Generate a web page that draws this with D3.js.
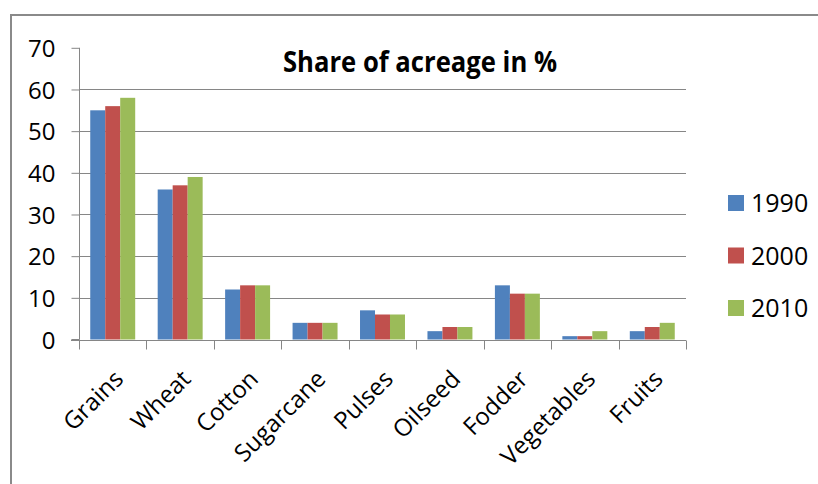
<!DOCTYPE html>
<html>
<head>
<meta charset="utf-8">
<script src="https://cdn.jsdelivr.net/npm/d3@7"></script>
<style>
  body { margin: 0; background: #fff; }
  text { font-family: "Open Sans", "Noto Sans", sans-serif; fill: #000; }
</style>
</head>
<body>
<script>
// chart data
var crops = ["Grains", "Wheat", "Cotton", "Sugarcane", "Pulses", "Oilseed", "Fodder", "Vegetables", "Fruits"];
var years = ["1990", "2000", "2010"];
var v1990 = [55, 36, 12, 4, 7, 2, 13, 0.8, 2];
var v2000 = [56, 37, 13, 4, 6, 3, 11, 0.8, 3];
var v2010 = [58, 39, 13, 4, 6, 3, 11, 2, 4];
var yTicks = [0, 10, 20, 30, 40, 50, 60, 70];
var colors = ["#4F81BD", "#C0504D", "#9BBB59"];

var series = [v1990, v2000, v2010];

var width = 818, height = 484;
var svg = d3.select("body").append("svg")
  .attr("width", width)
  .attr("height", height);

// chart frame (only top and left visible)
svg.append("path")
  .attr("d", "M11,484 L11,15 L818,15")
  .attr("fill", "none")
  .attr("stroke", "#8a8a8a")
  .attr("stroke-width", 2);

var x0 = 79, x1 = 686, yTop = 47.8, yBot = 339.5;

var x = d3.scaleBand()
  .domain(crops)
  .range([x0, x1]);

var y = d3.scaleLinear()
  .domain([0, 70])
  .range([yBot, yTop]);

// gridlines
svg.append("g")
  .selectAll("line")
  .data(yTicks.filter(function(d) { return d > 0 && d < 70; }))
  .enter().append("line")
  .attr("x1", x0).attr("x2", x1)
  .attr("y1", function(d) { return Math.round(y(d)) + 0.5; })
  .attr("y2", function(d) { return Math.round(y(d)) + 0.5; })
  .attr("stroke", "#868686")
  .attr("stroke-width", 1);

// bars (excel style, gap width 150%)
var bw = x.bandwidth() / 4.5;
series.forEach(function(vals, s) {
  svg.append("g")
    .selectAll("rect")
    .data(vals)
    .enter().append("rect")
    .attr("x", function(d, i) { return x(crops[i]) + bw * 0.75 + s * bw; })
    .attr("y", function(d) { return y(d); })
    .attr("width", bw)
    .attr("height", function(d) { return yBot - y(d); })
    .attr("fill", colors[s]);
});

// y axis
var yAxis = svg.append("g")
  .attr("transform", "translate(" + (x0 + 0.5) + ",0)")
  .call(d3.axisLeft(y).tickValues(yTicks).tickSize(8).tickPadding(16));
yAxis.select(".domain").attr("stroke", "#868686").attr("d", "M-8," + yBot + "H0V" + yTop);
yAxis.selectAll(".tick line").attr("stroke", "#868686");
yAxis.selectAll(".tick text")
  .style("font-size", "24px")
  .attr("dy", "0.36em");

// x axis
var xAxis = svg.append("g")
  .attr("transform", "translate(0," + (Math.round(yBot) + 0.5) + ")");
xAxis.append("line")
  .attr("x1", x0 - 8).attr("x2", x1)
  .attr("stroke", "#868686");
xAxis.selectAll("line.tk")
  .data(crops.concat(["end"]))
  .enter().append("line")
  .attr("class", "tk")
  .attr("x1", function(d, i) { return Math.round(x0 + i * x.step()) + 0.5; })
  .attr("x2", function(d, i) { return Math.round(x0 + i * x.step()) + 0.5; })
  .attr("y1", 0).attr("y2", 9)
  .attr("stroke", "#868686");
xAxis.selectAll("text")
  .data(crops)
  .enter().append("text")
  .attr("text-anchor", "end")
  .attr("transform", function(d) {
    return "translate(" + (x(d) + x.bandwidth() / 2 + 12) + ",40) rotate(-45)";
  })
  .style("font-size", "24px")
  .text(function(d) { return d; });

// title
svg.append("text")
  .attr("x", 420)
  .attr("y", 71.5)
  .attr("text-anchor", "middle")
  .attr("textLength", 274)
  .attr("lengthAdjust", "spacingAndGlyphs")
  .style("font-size", "29px")
  .style("font-weight", "bold")
  .text("Share of acreage in %");

// legend
var legend = svg.append("g")
  .selectAll("g")
  .data(years)
  .enter().append("g")
  .attr("transform", function(d, i) { return "translate(728," + (195 + i * 52.5) + ")"; });
legend.append("rect")
  .attr("width", 16).attr("height", 16)
  .attr("fill", function(d, i) { return colors[i]; });
legend.append("text")
  .attr("x", 23)
  .attr("y", 17)
  .style("font-size", "25px")
  .text(function(d) { return d; });
</script>
</body>
</html>
